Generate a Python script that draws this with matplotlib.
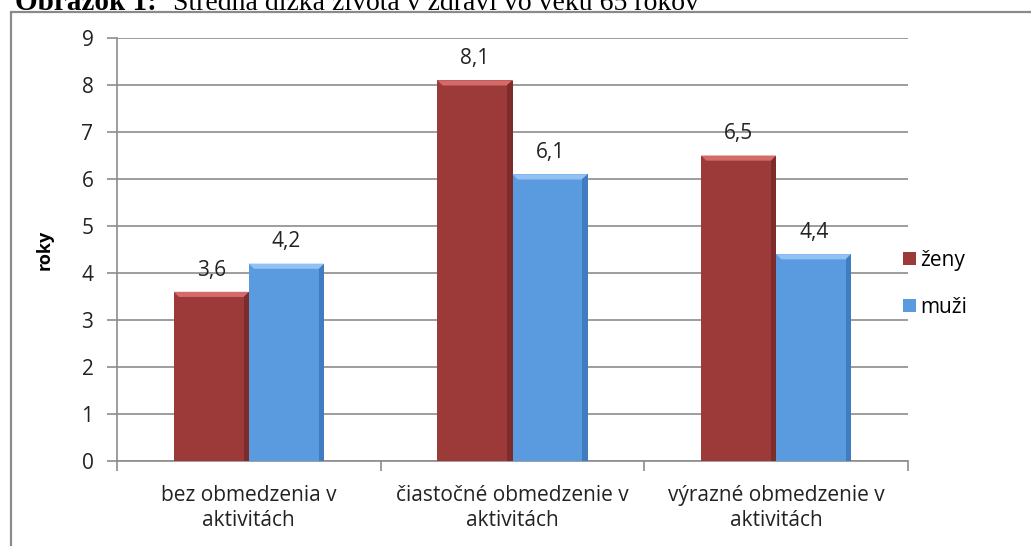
import matplotlib.pyplot as plt
from matplotlib.patches import Polygon, Rectangle
import numpy as np

categories = ["bez obmedzenia v\naktivitách", "čiastočné obmedzenie v\naktivitách", "výrazné obmedzenie v\naktivitách"]
zeny = [3.6, 8.1, 6.5]
muzi = [4.2, 6.1, 4.4]
series_names = ["ženy", "muži"]
labels_zeny = ["3,6", "8,1", "6,5"]
labels_muzi = ["4,2", "6,1", "4,4"]

red = "#9C3A39"
red_top = "#D46B6A"
red_side = "#7E2C2B"
blue = "#5A9BE0"
blue_top = "#92C2F4"
blue_side = "#3F7CC0"

plt.rcParams['font.family'] = ['Open Sans', 'DejaVu Sans']

fig = plt.figure(figsize=(10.31, 5.46), dpi=100)
W, H = 1031, 546

# outer chart border (only left and top are visible)
fig.patches.append(Rectangle((11 / W, -0.1), 1.2, 1 - 12 / H + 0.1, transform=fig.transFigure,
                             fill=False, edgecolor="#8a8a8a", lw=1.6))

# cut-off caption above the chart
fig.text(15 / W, 1 - 10 / H, "Obrázok 1:", family="Liberation Serif", weight="bold",
         fontsize=21, va="baseline", color="black")
fig.text(173 / W, 1 - 10 / H, "Stredná dĺžka života v zdraví vo veku 65 rokov",
         family="Liberation Serif", fontsize=20, va="baseline", color="black")

ax = fig.add_axes([117 / W, 1 - 461 / H, (908 - 117) / W, (461 - 38) / H])

x = np.arange(len(categories))
w = 0.285
b1 = ax.bar(x - w / 2, zeny, w, color=red, zorder=3, label=series_names[0])
b2 = ax.bar(x + w / 2, muzi, w, color=blue, zorder=3, label=series_names[1])


def bevel(bars, top_c, side_c):
    for p in bars:
        x0, y0 = p.get_x(), p.get_y()
        bw, bh = p.get_width(), p.get_height()
        dx = bw * 0.07
        dy = 0.11
        ax.add_patch(Polygon([(x0, y0 + bh), (x0 + bw, y0 + bh), (x0 + bw - dx, y0 + bh - dy),
                              (x0 + dx, y0 + bh - dy)], closed=True, color=top_c, zorder=4, lw=0))
        ax.add_patch(Polygon([(x0 + bw, y0 + bh), (x0 + bw, y0), (x0 + bw - dx, y0),
                              (x0 + bw - dx, y0 + bh - dy)], closed=True, color=side_c, zorder=4, lw=0))


bevel(b1, red_top, red_side)
bevel(b2, blue_top, blue_side)

for xi, v, s in zip(x - w / 2, zeny, labels_zeny):
    ax.annotate(s, (xi, v), xytext=(0, 8), textcoords="offset points", ha="center",
                va="bottom", fontsize=15, color="#222222")
for xi, v, s in zip(x + w / 2, muzi, labels_muzi):
    ax.annotate(s, (xi, v), xytext=(0, 8), textcoords="offset points", ha="center",
                va="bottom", fontsize=15, color="#222222")

ax.set_xlim(-0.5, len(categories) - 0.5)
ax.set_ylim(0, 9)
ax.set_yticks(range(0, 10))
ax.yaxis.grid(True, color="#8c8c8c", lw=1.2, zorder=0)
ax.set_axisbelow(True)

ax.set_xticks(x)
ax.set_xticklabels(categories, fontsize=15, color="#222222", linespacing=1.3)
ax.tick_params(axis="x", length=0, pad=17)
ax.set_xticks(np.arange(-0.5, len(categories) + 0.5, 1), minor=True)
ax.tick_params(axis="x", which="minor", length=7, color="#8c8c8c", width=1.2)
ax.tick_params(axis="y", length=7, color="#8c8c8c", width=1.2, labelsize=15,
               labelcolor="#222222", pad=10)

for s in ["top", "right"]:
    ax.spines[s].set_visible(False)
ax.spines["left"].set_color("#8c8c8c")
ax.spines["bottom"].set_color("#8c8c8c")
ax.spines["left"].set_linewidth(1.2)
ax.spines["bottom"].set_linewidth(1.2)

ax.set_ylabel("roky", fontsize=13, weight="bold", labelpad=20)

ax.legend(loc="center left", bbox_to_anchor=(895 / W, 1 - 284 / H), bbox_transform=fig.transFigure,
          frameon=False, fontsize=15, handlelength=0.6, handleheight=0.6, handletextpad=0.2,
          labelspacing=1.25, borderaxespad=0)

fig.savefig("out.png", dpi=100)
